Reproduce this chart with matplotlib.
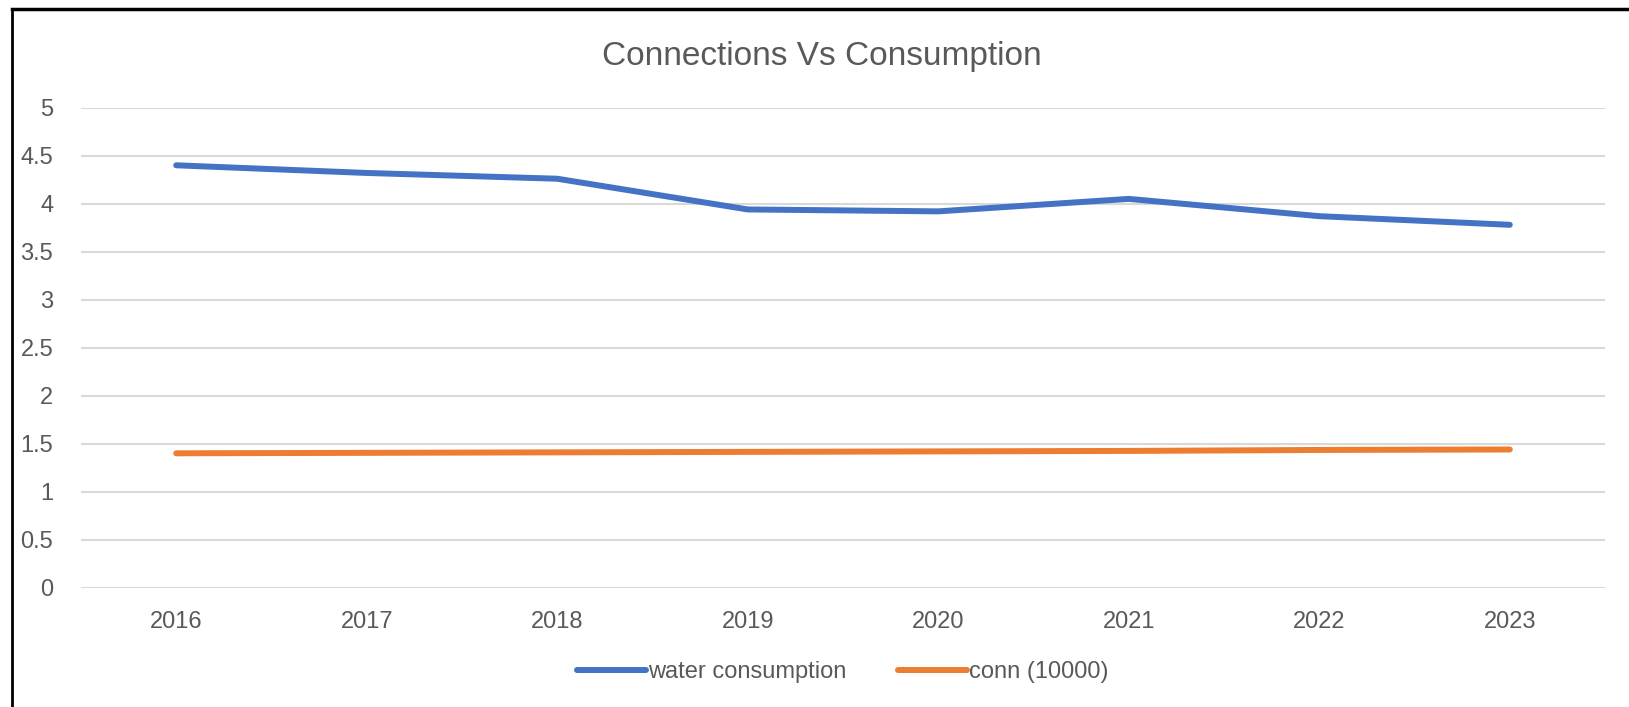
import matplotlib.pyplot as plt
from matplotlib.lines import Line2D

years = ['2016', '2017', '2018', '2019', '2020', '2021', '2022', '2023']
water_consumption = [4.40, 4.32, 4.26, 3.94, 3.92, 4.05, 3.87, 3.78]
conn_10000 = [1.40, 1.405, 1.41, 1.415, 1.42, 1.425, 1.435, 1.44]

plt.rcParams['font.family'] = ['Liberation Sans', 'DejaVu Sans']
grey = '#595959'

fig = plt.figure(figsize=(16.29, 7.07), dpi=100)
ax = fig.add_axes([0.0497, 0.1687, 0.9356, 0.679])

x = range(len(years))
ax.plot(x, water_consumption, color='#4472C4', lw=4.3, solid_capstyle='round',
        label='water consumption')
ax.plot(x, conn_10000, color='#ED7D31', lw=4.3, solid_capstyle='round',
        label='conn (10000)')

ax.set_xlim(-0.5, len(years) - 0.5)
ax.set_ylim(0, 5)
ax.set_yticks([0, 0.5, 1, 1.5, 2, 2.5, 3, 3.5, 4, 4.5, 5])
ax.set_yticklabels(['0', '0.5', '1', '1.5', '2', '2.5', '3', '3.5', '4', '4.5', '5'])
ax.set_xticks(list(x))
ax.set_xticklabels(years)
ax.tick_params(axis='both', length=0, labelsize=17, colors=grey)
ax.tick_params(axis='x', pad=17)
ax.tick_params(axis='y', pad=20)
ax.grid(axis='y', color='#D9D9D9', lw=1.5)
ax.set_axisbelow(True)
for s in ax.spines.values():
    s.set_visible(False)

fig.text(0.5045, 0.92, 'Connections Vs Consumption', ha='center', va='center',
         fontsize=24, color=grey)

ax.legend(loc='center', bbox_to_anchor=(0.5, -0.176), ncol=2, frameon=False,
          fontsize=17, labelcolor=grey, handlelength=2.9, handletextpad=0.1,
          columnspacing=2.2)

# chart frame (left and top edges visible in the screenshot)
fig.add_artist(Line2D([12 / 1629, 12 / 1629], [0, 1 - 9 / 707], color='black', lw=2,
                      transform=fig.transFigure))
fig.add_artist(Line2D([12 / 1629, 1], [1 - 9 / 707, 1 - 9 / 707], color='black', lw=2.5,
                      transform=fig.transFigure))

fig.savefig('out.png', dpi=100)
